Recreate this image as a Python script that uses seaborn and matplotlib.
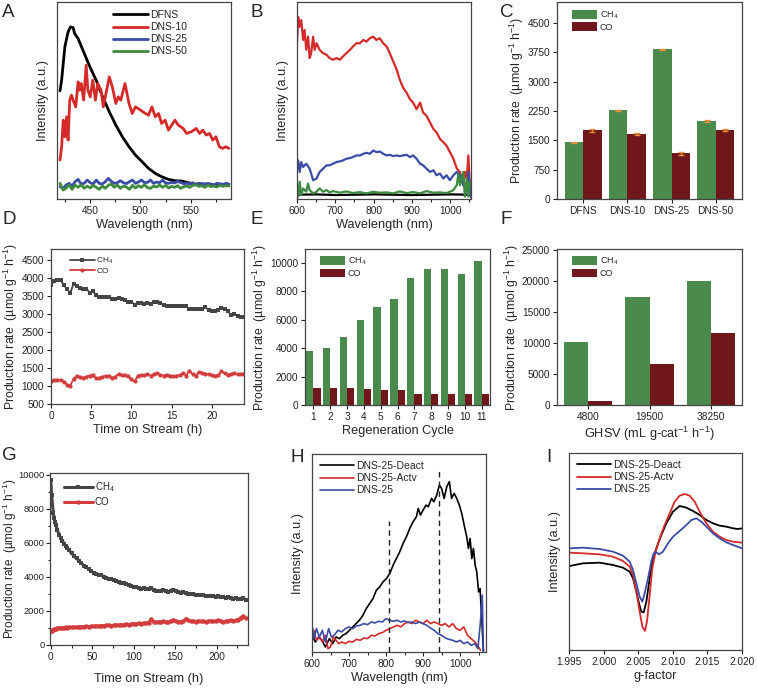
import numpy as np
import pandas as pd
import matplotlib
matplotlib.use("Agg")
import matplotlib.pyplot as plt
from matplotlib.ticker import MultipleLocator, AutoMinorLocator
import seaborn as sns

# ---------------- data ----------------
# A: photoluminescence 420-590 nm
a_wl_dfns = [420, 421.6, 424.8, 428, 430.4, 433, 434.6, 438, 442.8, 449, 455.9, 462.4, 469, 475.5,
             482, 488.6, 495, 501.6, 508, 514.7, 521, 527.8, 534.3, 540.8, 547, 553.9, 563.7, 573.5, 586.6]
a_dfns = [32.8, 36, 46, 50.5, 52, 51.8, 50, 48.5, 45, 40.5, 36, 31, 26.5, 22.5,
          19, 16, 13.5, 11.5, 9.5, 8, 7, 6.2, 5.8, 5.7, 5.2, 4.8, 4.8, 4.5, 4.5]
a_wl_d10 = [420, 421.6, 423.2, 424.8, 426.5, 428, 429.7, 431.4, 433, 435.6, 438, 439.5, 441, 443.5,
            446, 447.7, 450, 452.6, 455.2, 457.5, 460.8, 463, 465.7, 469, 472, 475.5, 478, 480.4,
            484.6, 488.6, 491.8, 495, 500, 505, 508, 511.4, 514.7, 518, 521, 524.5, 527.8, 531,
            534.3, 537.6, 542.5, 545.8, 550.6, 555.5, 558.8, 562, 565.4, 568.6, 572, 575, 578.4,
            581.7, 585, 588]
a_d10 = [12, 16, 24, 19, 25, 18, 30, 31.5, 30, 28, 35.5, 33, 35, 30, 40.5, 33, 31, 36, 30, 35,
         33, 28, 32, 37, 34, 29, 31, 30, 35, 29, 26, 28, 27, 26, 25.5, 28, 25, 26, 23, 24,
         21, 22.5, 24, 22.5, 21.5, 20, 20.5, 21.5, 20, 21, 19.5, 20, 18, 19, 16, 15.5, 16, 15.5]
a_wl_grid = np.arange(420, 590, 3)
a_d25 = [4.0, 3.5, 4.5, 5.0, 4.2, 5.5, 6.2, 4.8, 5.0, 6.0, 5.2, 4.8, 6.0, 5.0, 4.8, 5.5, 6.5, 5.6,
         5.0, 5.2, 5.8, 5.2, 4.9, 5.5, 6.0, 5.0, 5.4, 6.0, 5.2, 5.3, 6.0, 5.0, 5.4, 5.2, 6.0, 5.1,
         5.0, 5.3, 5.1, 5.6, 5.2, 4.9, 5.0, 4.8, 5.2, 4.5, 5.0, 4.9, 4.7, 5.0, 4.8, 4.5, 5.0, 4.9,
         4.7, 5.0, 4.8]
a_d50 = [5.0, 3.0, 3.5, 4.5, 3.2, 4.5, 3.8, 4.6, 3.5, 4.2, 3.6, 4.4, 3.8, 3.2, 4.2, 3.5, 4.4, 4.8,
         3.8, 4.5, 3.5, 4.2, 3.9, 3.2, 4.4, 3.6, 4.3, 3.8, 4.6, 3.7, 3.5, 4.2, 3.9, 4.5, 3.8, 4.4,
         3.6, 4.1, 3.8, 4.3, 3.5, 4.0, 4.2, 3.8, 4.4, 4.6, 4.1, 4.3, 3.8, 4.5, 4.0, 4.2, 3.9, 4.4,
         4.1, 4.3, 4.2]

# B: 600-1050 nm
b_wl_red = [600, 603, 607, 611, 616, 620, 624, 629, 633, 637, 642, 646, 651, 659, 668, 677, 685,
            694, 703, 712, 720, 729, 738, 746, 755, 764, 773, 781, 790, 799, 807, 816, 825, 834,
            842, 851, 860, 868, 877, 886, 895, 903, 912, 921, 929, 938, 947, 956, 964, 973, 982,
            990, 999, 1008, 1017, 1025, 1034, 1038, 1043, 1047, 1051, 1054]
b_red = [46.7, 54.7, 51.7, 53.7, 47.7, 50.7, 44.7, 48.7, 42.2, 43.7, 48.7, 44.7, 46.7, 44.7, 43.7,
         43.2, 42.2, 41.7, 42.2, 41.7, 42.7, 43.7, 44.7, 45.7, 46.7, 46.7, 47.7, 47.2, 48.2, 48.7,
         47.7, 48.2, 46.7, 45.7, 43.7, 41.2, 38.7, 35.7, 33.2, 31.7, 29.7, 28.7, 26.7, 28.7, 25.7,
         24.7, 22.7, 20.7, 19.7, 17.7, 16.7, 15.7, 13.7, 11.7, 8.7, 7.7, 3.7, 7.7, 5.7, 12.7, 3.7, 0]
b_wl_blue = [600, 603, 607, 611, 616, 624, 633, 642, 651, 659, 668, 677, 685, 694, 703, 712, 720,
             729, 738, 746, 755, 764, 773, 781, 790, 799, 807, 816, 825, 834, 842, 851, 860, 868,
             877, 886, 895, 903, 912, 921, 929, 938, 947, 956, 964, 973, 982, 990, 999, 1008,
             1017, 1025, 1034, 1043, 1047, 1054]
b_blue = [8.7, 11.2, 7.7, 10.7, 9.2, 10.2, 8.7, 5.2, 5.7, 7.7, 8.7, 9.7, 9.7, 10.2, 10.7, 10.9,
          11.2, 11.7, 11.9, 12.2, 12.7, 12.7, 13.2, 13.5, 13.2, 14.2, 13.7, 13.9, 13.2, 12.7, 12.9,
          12.5, 12.7, 12.5, 12.7, 12.9, 12.2, 12.7, 11.7, 10.2, 9.7, 8.7, 7.7, 8.2, 6.7, 7.2, 5.7,
          6.7, 5.2, 6.7, 7.7, 6.7, 3.7, 1.7, 7.7, 0]
b_wl_green = [600, 603, 607, 611, 616, 624, 629, 633, 642, 651, 659, 668, 677, 685, 694, 712, 729,
              746, 764, 781, 799, 816, 834, 851, 868, 886, 903, 921, 938, 956, 973, 990, 999,
              1008, 1017, 1021, 1025, 1034, 1038, 1043, 1047, 1051]
b_green = [3.7, 0.2, 4.7, 0.7, 2.7, 1.7, 4.2, 2.2, 1.2, 1.7, 2.7, 1.7, 2.2, 1.5, 1.9, 1.4, 1.8,
           1.3, 1.6, 1.2, 1.7, 1.4, 1.5, 1.2, 1.8, 1.3, 1.6, 1.2, 1.9, 1.4, 1.5, 1.3, 1.7, 2.2,
           3.7, 7.2, 3.7, 7.7, 0.2, 5.7, 0.2, 4.7]
b_wl_black = [600, 650, 700, 750, 800, 850, 900, 950, 1000, 1050]
b_black = [0.8, 0.9, 0.7, 0.8, 0.9, 0.8, 0.7, 0.8, 0.9, 0.8]

# C: production rate per catalyst
c_samples = ["DFNS", "DNS-10", "DNS-25", "DNS-50"]
c_ch4 = [1446, 2270, 3818, 1998]
c_co = [1760, 1658, 1165, 1760]
c_ch4_err = [15, 15, 15, 20]
c_co_err = [40, 35, 35, 35]

# D: 24 h stability
d_time = np.arange(0, 24.01, 0.4)
d_ch4 = [3814, 3900, 3934, 3934, 3800, 3680, 3583, 3833, 3780, 3720, 3695, 3700, 3590, 3630,
         3520, 3472, 3472, 3475, 3470, 3420, 3400, 3450, 3420, 3380, 3342, 3342, 3250, 3300,
         3300, 3286, 3290, 3286, 3320, 3342, 3305, 3260, 3215, 3212, 3212, 3215, 3212, 3210,
         3212, 3125, 3130, 3135, 3138, 3140, 3190, 3100, 3085, 3083, 3120, 3150, 3140, 3074,
         2960, 3005, 2940, 2916, 2916]
d_co = [1130, 1170, 1175, 1170, 1120, 1040, 1010, 1200, 1286, 1240, 1230, 1260, 1290, 1305,
        1210, 1230, 1260, 1286, 1280, 1230, 1260, 1333, 1300, 1314, 1268, 1180, 1128, 1290,
        1314, 1300, 1320, 1290, 1333, 1360, 1300, 1290, 1314, 1290, 1268, 1290, 1300, 1360,
        1290, 1425, 1330, 1290, 1380, 1370, 1342, 1320, 1300, 1286, 1300, 1407, 1350, 1314,
        1340, 1360, 1330, 1342, 1342]

# E: regeneration cycles
e_cycles = ["1", "2", "3", "4", "5", "6", "7", "8", "9", "10", "11"]
e_ch4 = [3804, 3990, 4807, 5951, 6861, 7421, 8938, 9521, 9568, 9195, 10105]
e_co = [1167, 1214, 1190, 1097, 1027, 1027, 793, 770, 747, 793, 747]

# F: GHSV
f_ghsv = ["4800", "19500", "38250"]
f_ch4 = [10108, 17419, 20000]
f_co = [699, 6667, 11613]

# G: 240 h stability
g_time = [0, 1, 2, 3, 4, 5, 6, 8, 10, 12, 14, 16, 18, 20] + list(range(22, 236, 3))
g_ch4 = [9700, 8800, 8250, 7750, 7450, 7250, 7050, 6750, 6470, 6300, 6120, 5960, 5820, 5690,
         5560, 5400, 5230, 5080, 4950, 4800, 4650, 4560, 4450, 4350, 4200, 4180, 4120, 4100,
         4010, 3950, 3890, 3860, 3800, 3730, 3700, 3660, 3620, 3560, 3540, 3450, 3400, 3380,
         3360, 3300, 3340, 3280, 3300, 3350, 3230, 3180, 3200, 3170, 3220, 3150, 3120, 3180,
         3250, 3200, 3120, 3080, 3100, 3060, 3000, 2980, 3020, 2960, 2940, 2960, 2930, 2880,
         2900, 2880, 2860, 2830, 2850, 2800, 2820, 2760, 2790, 2750, 2720, 2760, 2730, 2700,
         2740, 2660]
g_co = [800, 850, 880, 900, 920, 950, 960, 980, 1000, 990, 1010, 1000, 1030, 1020,
        1040, 1030, 1050, 1040, 1070, 1060, 1080, 1090, 1070, 1110, 1100, 1120, 1110, 1140,
        1130, 1150, 1170, 1140, 1160, 1180, 1170, 1200, 1190, 1220, 1200, 1230, 1250, 1240,
        1270, 1260, 1290, 1280, 1300, 1520, 1350, 1330, 1360, 1340, 1380, 1360, 1350, 1400,
        1480, 1400, 1370, 1360, 1400, 1550, 1450, 1380, 1400, 1360, 1420, 1380, 1400, 1350,
        1380, 1420, 1380, 1400, 1460, 1400, 1360, 1380, 1420, 1440, 1400, 1450, 1480, 1600,
        1700, 1560]

# H: spectra of deactivated / activated catalyst
h_wl_deact = [600, 609, 618, 627, 636, 647, 656, 665, 674, 683, 692, 701, 710, 719, 728, 737.5,
              746.6, 755.7, 764.7, 773.8, 782.8, 791.9, 801, 810, 819, 828, 837, 846, 855, 864,
              873, 882, 887, 893, 900, 908, 914, 923, 929, 937, 944, 950, 957, 964, 971, 977,
              984, 991, 998, 1004.5, 1011, 1018, 1022.6, 1027, 1031.7, 1036, 1040.7, 1045,
              1050, 1054, 1059, 1063]
h_deact = [5, 3, 4.5, 3.5, 1.5, 4, 2.5, 4.5, 4, 5, 5.5, 6.5, 7.5, 8.5, 9.5, 11, 13, 14.5, 16,
           18.5, 19.5, 21, 22, 23.5, 26, 28, 30, 32.5, 34.5, 37, 39, 40.5, 43, 41, 42.5, 44,
           43.5, 46, 45, 47, 50, 49, 46, 49.5, 51, 46, 47.5, 46, 44, 41.5, 38, 34.5, 31, 34,
           28, 31, 26, 24, 18, 19, 9, 0]
h_wl_actv = [600, 605, 612, 620, 628, 636, 643, 650, 657, 665, 672, 680, 690, 700, 710, 720,
             730, 740, 750, 760, 770, 780, 790, 800, 810, 820, 830, 840, 850, 860, 870, 880,
             890, 900, 910, 920, 930, 940, 950, 960, 970, 980, 990, 1000, 1010, 1020, 1030,
             1040, 1050, 1055]
h_actv = [5, 6.5, 3.5, 4.5, 3, 5, 1, 1.5, 4.5, 3.5, 2.5, 3, 2.5, 3.2, 3, 3.8, 3.5, 4.2, 4, 5,
          4.8, 5.5, 5.8, 6.5, 7, 7.5, 8, 7.5, 8.5, 9, 8.5, 9.5, 9, 8.5, 9.5, 8.5, 9, 8.5, 8,
          8.5, 7.5, 8.5, 7, 6.5, 7.5, 5, 4, 3, 1.5, 0.5]
h_wl_d25 = [600, 606, 612, 620, 628, 636, 645, 652, 660, 670, 680, 690, 700, 710, 720, 730, 740,
            750, 760, 770, 780, 790, 800, 810, 820, 830, 840, 850, 860, 870, 880, 890, 900, 910,
            920, 930, 940, 950, 960, 970, 980, 990, 1000, 1010, 1020, 1030, 1040, 1048, 1055,
            1060, 1063]
h_d25 = [8, 4, 7, 4.5, 6.5, 3, 7, 4.5, 5, 6.5, 6, 7, 7.5, 7, 7.8, 8, 8.5, 8.2, 9, 8.7, 9.2, 9,
         10, 9.5, 9.2, 9.5, 9, 9.3, 8.8, 9, 8.5, 9, 8.5, 8, 7.2, 6.5, 5.5, 5, 4.2, 3.8, 3.5, 3,
         3.5, 2.5, 3, 2, 2.5, 1, 9, 17, 0]
h_marks = [808, 944]
h_mark_tops = [39.3, 54.7]

# I: EPR
i_g_deact = [1.9951, 1.99702, 1.99943, 2.00136, 2.0028, 2.00377, 2.00425, 2.00473, 2.00512,
             2.00545, 2.00579, 2.00618, 2.00666, 2.00714, 2.00762, 2.00834, 2.00907, 2.01003,
             2.01099, 2.01196, 2.01292, 2.01388, 2.01485, 2.01581, 2.01677, 2.01774, 2.0187,
             2.01942, 2.02]
i_deact = [25.2, 26, 26.2, 25.5, 24.7, 23.5, 21.5, 17.5, 14, 11.5, 11.3, 14.5, 21.5, 27.5, 30.5,
           34.5, 38, 41.5, 43.2, 42.7, 41.7, 40.5, 39, 38, 37.3, 37, 36.5, 36.3, 36.5]
i_g_actv = [1.9951, 1.99702, 1.99943, 2.00136, 2.0028, 2.00377, 2.00425, 2.00473, 2.00521,
            2.0056, 2.00598, 2.00627, 2.00666, 2.00704, 2.00752, 2.0081, 2.00882, 2.00955,
            2.01027, 2.01099, 2.01172, 2.01244, 2.01316, 2.01388, 2.01485, 2.01581, 2.01677,
            2.01774, 2.0187, 2.02]
i_actv = [29.2, 29, 28.7, 28, 26.7, 25, 22.5, 17.5, 11.5, 7, 5.7, 8.5, 16.5, 24.5, 29.5, 33.5,
          37.5, 41, 44.5, 46.3, 46.8, 46.3, 44.5, 41.5, 38, 35.5, 34, 33, 32.5, 32.2]
i_g_d25 = [1.9951, 1.99702, 1.99943, 2.00136, 2.0028, 2.00377, 2.00425, 2.00473, 2.00521,
           2.0056, 2.00593, 2.00642, 2.0069, 2.00724, 2.00762, 2.008, 2.00858, 2.00931, 2.01003,
           2.01099, 2.01196, 2.01268, 2.0134, 2.01412, 2.01485, 2.01581, 2.01677, 2.01774,
           2.0187, 2.02]
i_d25 = [30.5, 30.7, 30.3, 29.5, 28.3, 26.5, 24, 20, 16, 14.5, 17, 21.5, 26.5, 29, 29.3, 28.7,
         29.5, 32, 34, 35.7, 37.5, 39, 39.5, 38.5, 37, 35, 33.5, 32.3, 31.5, 30.5]

# ---------------- style ----------------
sns.set_style("ticks")
plt.rcParams["font.family"] = ["Liberation Sans", "DejaVu Sans"]
plt.rcParams["mathtext.fontset"] = "custom"
plt.rcParams["mathtext.rm"] = "Liberation Sans"
plt.rcParams["mathtext.it"] = "Liberation Sans:italic"
plt.rcParams["mathtext.bf"] = "Liberation Sans:bold"

BLACK, RED, BLUE, GREEN = "#000000", "#d42a2a", "#3a4ca6", "#3f8a3f"
BAR_G, BAR_R = "#4a8a4c", "#6f171b"
GRAY_L, RED_L = "#454545", "#d23c3c"
RATE = "Production rate  (µmol g$^{-1}$ h$^{-1}$)"
TICK_FS, LAB_FS, RATE_FS, LEG_FS = 7.3, 9.2, 8.8, 7

fig = plt.figure(figsize=(7.57, 6.89), dpi=100)


def add_ax(x0, y0, x1, y1):
    # pixel box (top-left origin) -> figure axes
    W, H = 757, 689
    return fig.add_axes([x0 / W, 1 - y1 / H, (x1 - x0) / W, (y1 - y0) / H])


def frame(ax, yticks=True):
    for s in ax.spines.values():
        s.set_visible(True)
        s.set_color("#444444")
        s.set_linewidth(0.9)
    ax.tick_params(which="both", labelsize=TICK_FS, direction="out", width=0.8,
                   colors="#222222", pad=2)
    ax.tick_params(which="major", length=3)
    ax.tick_params(which="minor", length=1.8)
    if not yticks:
        ax.set_yticks([])


def letter(x, y, s):
    fig.text(x / 757, 1 - y / 689, s, fontsize=13.5, va="top", ha="left")


def spectrum_legend(ax, bbox, fs=LEG_FS + 0.5):
    ax.legend(loc="upper left", bbox_to_anchor=bbox, frameon=False, fontsize=fs,
              handlelength=3.3, handletextpad=0.2, labelspacing=0.2, borderaxespad=0)


def bar_panel(ax, cats, ch4, co, width):
    df = pd.DataFrame({"cat": cats * 2, "rate": ch4 + co,
                       "gas": ["CH$_4$"] * len(cats) + ["CO"] * len(cats)})
    sns.barplot(data=df, x="cat", y="rate", hue="gas", palette=[BAR_G, BAR_R], width=width,
                gap=0, errorbar=None, saturation=1, ax=ax, linewidth=0)
    ax.legend(loc="upper left", bbox_to_anchor=(0.06, 0.98), frameon=False, fontsize=LEG_FS - 0.5,
              handlelength=2.8, handleheight=1.1, handletextpad=0.3, labelspacing=0.15,
              borderaxespad=0)
    ax.set_xlabel("")


def rate_label(ax):
    ax.set_ylabel(RATE, fontsize=RATE_FS, labelpad=1)


# ---- A ----
ax = add_ax(57, 2, 231, 199)
sns.lineplot(x=a_wl_dfns, y=a_dfns, color=BLACK, lw=2.0, sort=False, ax=ax, label="DFNS")
sns.lineplot(x=a_wl_d10, y=a_d10, color=RED, lw=2.0, sort=False, ax=ax, label="DNS-10")
sns.lineplot(x=a_wl_grid, y=a_d25, color=BLUE, lw=2.0, sort=False, ax=ax, label="DNS-25")
sns.lineplot(x=a_wl_grid, y=a_d50, color=GREEN, lw=2.0, sort=False, ax=ax, label="DNS-50")
ax.set_xlim(417, 590)
ax.set_ylim(0.3, 59.5)
ax.xaxis.set_major_locator(MultipleLocator(50))
ax.xaxis.set_minor_locator(MultipleLocator(25))
frame(ax, yticks=False)
ax.set_xlabel("Wavelength (nm)", fontsize=LAB_FS, labelpad=2)
ax.set_ylabel("Intensity (a.u.)", fontsize=LAB_FS, labelpad=6)
spectrum_legend(ax, (0.3, 0.98))
letter(2, 4, "A")

# ---- B ----
ax = add_ax(297, 2, 471, 199)
sns.lineplot(x=b_wl_black, y=b_black, color=BLACK, lw=1.6, sort=False, ax=ax)
sns.lineplot(x=b_wl_red, y=b_red, color=RED, lw=1.6, sort=False, ax=ax)
sns.lineplot(x=b_wl_blue, y=b_blue, color=BLUE, lw=1.6, sort=False, ax=ax)
sns.lineplot(x=b_wl_green, y=b_green, color=GREEN, lw=1.6, sort=False, ax=ax)
ax.set_xlim(600, 1054)
ax.set_ylim(-0.5, 59.2)
ax.xaxis.set_major_locator(MultipleLocator(100))
ax.xaxis.set_minor_locator(MultipleLocator(50))
frame(ax, yticks=False)
ax.set_xlabel("Wavelength (nm)", fontsize=LAB_FS, labelpad=2)
ax.set_ylabel("Intensity (a.u.)", fontsize=LAB_FS, labelpad=6)
letter(251, 4, "B")

# ---- C ----
ax = add_ax(557, 2, 742, 199)
bar_panel(ax, c_samples, c_ch4, c_co, 0.82)
for cont, err in zip(ax.containers, [c_ch4_err, c_co_err]):
    xs = [b.get_x() + b.get_width() / 2 for b in cont]
    ys = [b.get_height() for b in cont]
    ax.errorbar(xs, ys, yerr=err, fmt="none", ecolor="#e8903a", elinewidth=1.0, capsize=2.2)
ax.set_ylim(0, 5030)
ax.set_yticks(np.arange(0, 4501, 750))
frame(ax)
rate_label(ax)
letter(500, 4, "C")

# ---- D ----
ax = add_ax(51, 249, 244, 404)
sns.lineplot(x=d_time, y=d_ch4, color=GRAY_L, lw=1.3, marker="s", markersize=3.2,
             markeredgewidth=0, sort=False, ax=ax, label="CH$_4$")
sns.lineplot(x=d_time, y=d_co, color=RED_L, lw=1.3, marker="o", markersize=3,
             markeredgewidth=0, sort=False, ax=ax, label="CO")
ax.set_xlim(0, 24)
ax.set_ylim(500, 4800)
ax.set_yticks(np.arange(500, 4501, 500))
ax.xaxis.set_major_locator(MultipleLocator(5))
frame(ax)
ax.set_xlabel("Time on Stream (h)", fontsize=LAB_FS, labelpad=2)
rate_label(ax)
ax.legend(loc="upper left", bbox_to_anchor=(0.08, 0.98), frameon=False, fontsize=LEG_FS - 1,
          handlelength=3.0, handletextpad=0.2, labelspacing=0.2, borderaxespad=0)
letter(2, 211, "D")

# ---- E ----
ax = add_ax(305, 249, 490, 405)
bar_panel(ax, e_cycles, e_ch4, e_co, 0.86)
ax.set_ylim(0, 10950)
ax.set_yticks(np.arange(0, 10001, 2000))
frame(ax)
ax.set_xlabel("Regeneration Cycle", fontsize=LAB_FS, labelpad=2)
rate_label(ax)
letter(251, 211, "E")

# ---- F ----
ax = add_ax(557, 249, 742, 405)
bar_panel(ax, f_ghsv, f_ch4, f_co, 0.78)
ax.set_ylim(0, 25100)
ax.set_yticks(np.arange(0, 25001, 5000))
frame(ax)
ax.set_xlabel("GHSV (mL g-cat$^{-1}$ h$^{-1}$)", fontsize=LAB_FS, labelpad=2)
rate_label(ax)
letter(500, 211, "F")

# ---- G ----
ax = add_ax(50, 473, 248, 645)
sns.lineplot(x=g_time, y=g_ch4, color=GRAY_L, lw=2.2, marker="s", markersize=3.5,
             markeredgewidth=0, sort=False, ax=ax, label="CH$_4$")
sns.lineplot(x=g_time, y=g_co, color=RED_L, lw=2.2, marker="o", markersize=3.2,
             markeredgewidth=0, sort=False, ax=ax, label="CO")
ax.set_xlim(-1, 238)
ax.set_ylim(0, 10100)
ax.set_yticks(np.arange(0, 10001, 2000))
ax.xaxis.set_major_locator(MultipleLocator(50))
ax.xaxis.set_minor_locator(AutoMinorLocator(2))
ax.yaxis.set_minor_locator(AutoMinorLocator(2))
frame(ax)
ax.tick_params(axis="y", labelsize=TICK_FS - 0.6, pad=1)
ax.set_xlabel("Time on Stream (h)", fontsize=LAB_FS, labelpad=8)
ax.set_ylabel(RATE, fontsize=RATE_FS - 0.3)
ax.yaxis.set_label_coords(-0.155, 0.5)
ax.legend(loc="upper left", bbox_to_anchor=(0.05, 0.98), frameon=False, fontsize=LEG_FS,
          handlelength=3.0, handletextpad=0.2, labelspacing=0.3, borderaxespad=0)
letter(2, 447, "G")

# ---- H ----
ax = add_ax(312, 454, 486, 652)
sns.lineplot(x=h_wl_deact, y=h_deact, color=BLACK, lw=1.2, sort=False, ax=ax, label="DNS-25-Deact")
sns.lineplot(x=h_wl_actv, y=h_actv, color=RED, lw=1.2, sort=False, ax=ax, label="DNS-25-Actv")
sns.lineplot(x=h_wl_d25, y=h_d25, color=BLUE, lw=1.2, sort=False, ax=ax, label="DNS-25")
ax.vlines(h_marks, 0, h_mark_tops, colors="#222222", linestyles=(0, (4, 3)), lw=1.0)
ax.set_xlim(600, 1070)
ax.set_ylim(0, 59.3)
ax.xaxis.set_major_locator(MultipleLocator(100))
ax.xaxis.set_minor_locator(MultipleLocator(50))
frame(ax, yticks=False)
ax.set_xlabel("Wavelength (nm)", fontsize=LAB_FS, labelpad=2)
ax.set_ylabel("Intensity (a.u.)", fontsize=LAB_FS, labelpad=6)
spectrum_legend(ax, (0.02, 0.985))
letter(291, 449, "H")

# ---- I ----
ax = add_ax(569, 453, 742, 650)
sns.lineplot(x=i_g_deact, y=i_deact, color=BLACK, lw=1.3, sort=False, ax=ax, label="DNS-25-Deact")
sns.lineplot(x=i_g_actv, y=i_actv, color=RED, lw=1.3, sort=False, ax=ax, label="DNS-25-Actv")
sns.lineplot(x=i_g_d25, y=i_d25, color=BLUE, lw=1.3, sort=False, ax=ax, label="DNS-25")
ax.set_xlim(1.995, 2.020)
ax.set_ylim(0, 59.1)
ax.set_xticks([1.995, 2.000, 2.005, 2.010, 2.015, 2.020])
ax.set_xticklabels(["1.995", "2.000", "2.005", "2.010", "2.015", "2.020"])
frame(ax, yticks=False)
ax.set_xlabel("g-factor", fontsize=LAB_FS, labelpad=2)
ax.set_ylabel("Intensity (a.u.)", fontsize=LAB_FS, labelpad=6)
spectrum_legend(ax, (0.02, 0.985))
letter(546, 449, "I")

fig.savefig("out.png", dpi=100)
